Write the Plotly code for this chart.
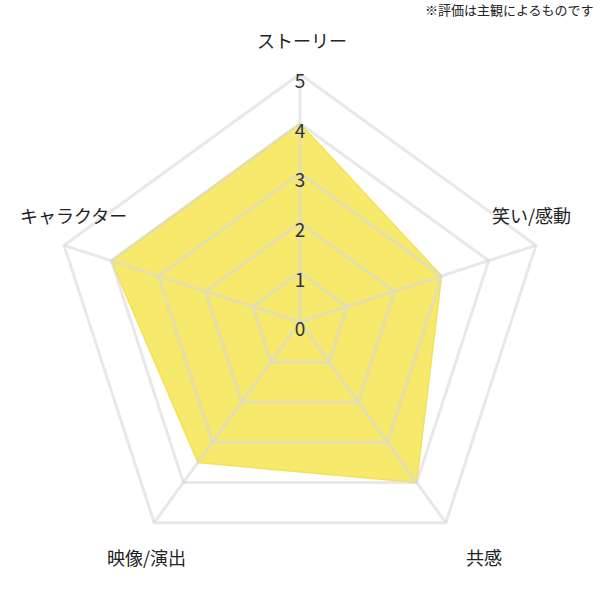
import plotly.graph_objects as go

# radar data
categories = ["ストーリー", "笑い/感動", "共感", "映像/演出", "キャラクター"]
scores = [4, 3, 4, 3.5, 4]
tick_values = [0, 1, 2, 3, 4, 5]
tick_labels = ["0", "1", "2", "3", "4", "5"]
note = "※評価は主観によるものです"

FONT = "Noto Sans CJK JP"
GRID = "rgba(217,217,217,0.6)"

# chart centre and radius of the "5" ring in pixels
CX, CY, RPX = 300, 322, 248
RMAX = 5.2  # headroom so the outer ring and the "5" label aren't clipped
S = 2 * RPX * RMAX / 5
L, T = CX - S / 2, CY - S / 2
R, B = 600 - L - S, 600 - T - S


def px(x, y):
    # pixel position -> paper coords
    return (x - L) / S, (T + S - y) / S


fig = go.Figure()

fig.add_trace(go.Scatterpolar(
    r=scores + scores[:1],
    theta=categories + categories[:1],
    mode="lines",
    fill="toself",
    fillcolor="rgba(246,232,100,0.95)",
    line=dict(color="rgba(243,226,80,1)", width=1.5),
    hoverinfo="skip",
))

# grid drawn as traces so it sits on top of the fill (like the original)
closed = categories + categories[:1]
for lvl in tick_values[1:]:
    fig.add_trace(go.Scatterpolar(
        r=[lvl] * len(closed), theta=closed, mode="lines",
        line=dict(color=GRID, width=3), hoverinfo="skip",
    ))
for cat in categories:
    fig.add_trace(go.Scatterpolar(
        r=[tick_values[0], tick_values[-1]], theta=[cat, cat], mode="lines",
        line=dict(color=GRID, width=3), hoverinfo="skip",
    ))

# radial tick labels along the top spoke
# (cliponaxis on, otherwise plotly hides the centre "0")
fig.add_trace(go.Scatterpolar(
    r=tick_values,
    theta=[categories[0]] * len(tick_values),
    mode="text",
    text=tick_labels,
    textposition="bottom center",
    textfont=dict(family=FONT, size=19, color="#333"),
    cliponaxis=True,
    hoverinfo="skip",
))

# category labels, placed like the original
label_pos = [(302, 40), (531, 215), (484, 557), (147, 557), (74, 215)]
annotations = []
for name, (x, y) in zip(categories, label_pos):
    ax, ay = px(x, y)
    annotations.append(dict(
        text=name, x=ax, y=ay, xref="paper", yref="paper",
        xanchor="center", yanchor="middle", showarrow=False,
        font=dict(family=FONT, size=18, color="#222"),
    ))
nx, ny = px(596, 10)
annotations.append(dict(
    text=note, x=nx, y=ny, xref="paper", yref="paper",
    xanchor="right", yanchor="middle", showarrow=False,
    font=dict(family=FONT, size=13, color="#222"),
))

fig.update_layout(
    width=600,
    height=600,
    margin=dict(l=L, r=R, t=T, b=B, pad=0),
    paper_bgcolor="white",
    showlegend=False,
    annotations=annotations,
    polar=dict(
        bgcolor="rgba(0,0,0,0)",
        gridshape="linear",
        radialaxis=dict(
            range=[0, RMAX],
            showticklabels=False,
            ticks="",
            showline=False,
            showgrid=False,
        ),
        angularaxis=dict(
            rotation=90,
            direction="clockwise",
            showticklabels=False,
            ticks="",
            showline=False,
            showgrid=False,
        ),
    ),
)

fig.write_html(
    "out.html",
    config={"displayModeBar": False},
    post_script="document.body.style.margin='0';",
)
